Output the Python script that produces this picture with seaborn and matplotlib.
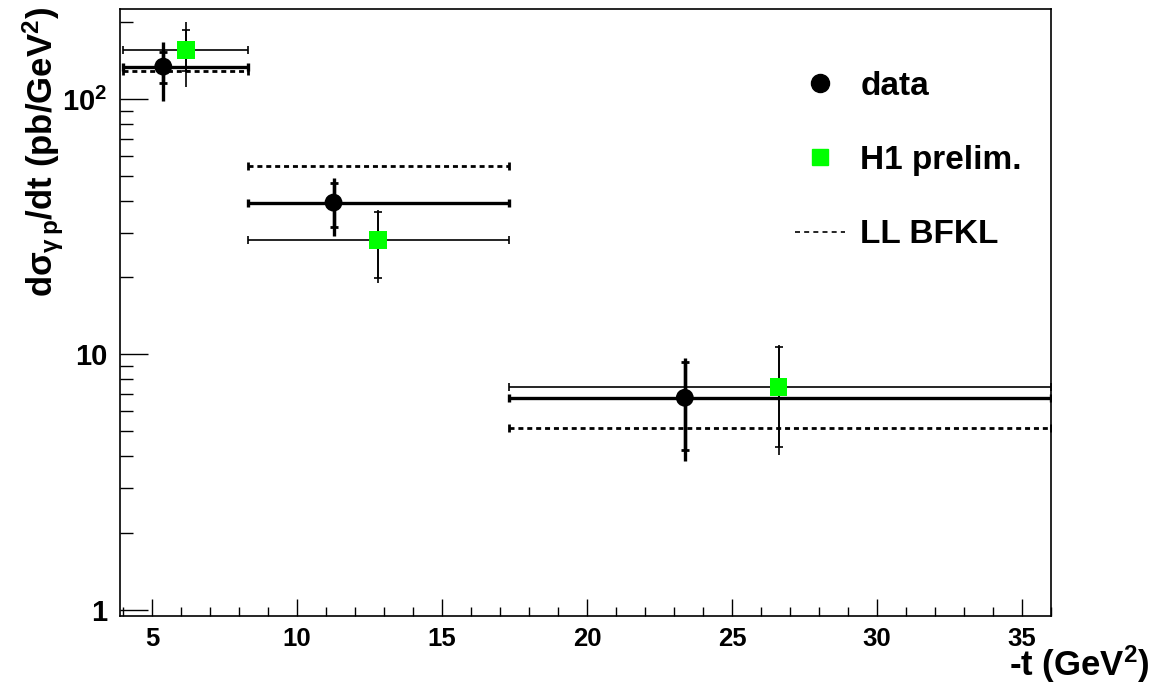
import numpy as np
import pandas as pd
import seaborn as sns
import matplotlib
matplotlib.use("Agg")
import matplotlib.pyplot as plt
from matplotlib.lines import Line2D
from matplotlib.ticker import FixedLocator, FixedFormatter, MultipleLocator, NullFormatter

# ---------------- data ----------------
bin_lo = [4.0, 8.3, 17.3]
bin_hi = [8.3, 17.3, 36.0]

data_x = [5.39, 11.26, 23.37]
data_y = [134.0, 39.3, 6.76]
data_stat_lo = [116.0, 31.5, 4.22]
data_stat_hi = [153.0, 46.9, 9.35]
data_tot_lo = [98.0, 29.1, 3.83]
data_tot_hi = [168.0, 49.0, 9.64]

h1_x = [6.18, 12.8, 26.6]
h1_y = [156.0, 28.1, 7.46]
h1_stat_lo = [129.0, 19.9, 4.32]
h1_stat_hi = [187.0, 36.2, 10.7]
h1_tot_lo = [111.0, 19.1, 4.03]
h1_tot_hi = [200.0, 36.8, 10.9]

bfkl_y = [129.0, 54.9, 5.15]

y_major = [1, 10, 100]
y_major_labels = ["1", "10", r"$\mathbf{10^{2}}$"]
x_major = [5, 10, 15, 20, 25, 30, 35]
legend_labels = ["data", "H1 prelim.", "LL BFKL"]

# ---------------- style ----------------
sns.set_theme(style="white")
plt.rcParams["font.family"] = ["Liberation Sans", "DejaVu Sans"]
plt.rcParams["font.weight"] = "bold"
plt.rcParams["text.color"] = "black"
plt.rcParams["axes.labelcolor"] = "black"
plt.rcParams["xtick.color"] = "black"
plt.rcParams["ytick.color"] = "black"
plt.rcParams["mathtext.fontset"] = "custom"
plt.rcParams["mathtext.rm"] = "Liberation Sans:bold"
plt.rcParams["mathtext.it"] = "Liberation Sans:bold"
plt.rcParams["mathtext.bf"] = "Liberation Sans:bold"
plt.rcParams["mathtext.sf"] = "Liberation Sans:bold"

df_data = pd.DataFrame({"x": data_x, "y": data_y})
df_h1 = pd.DataFrame({"x": h1_x, "y": h1_y})

fig = plt.figure(figsize=(11.61, 6.88), dpi=100)
ax = fig.add_axes([0.1034, 0.105, 0.802, 0.8824])
ax.set_yscale("log")
ax.set_xlim(3.9, 36.0)
ax.set_ylim(0.946, 226)

def asym(center, lo, hi):
    c = np.asarray(center)
    return np.vstack([c - np.asarray(lo), np.asarray(hi) - c])

# LL BFKL dashed bins
eb = ax.errorbar(h1_x, bfkl_y, xerr=asym(h1_x, bin_lo, bin_hi), fmt="none",
                 ecolor="black", elinewidth=2.0, capsize=3, capthick=2.0, zorder=2)
for lc in eb[2]:
    lc.set_linestyle((0, (1.8, 1.4)))

# H1: thin bars
ax.errorbar(h1_x, h1_y, xerr=asym(h1_x, bin_lo, bin_hi), fmt="none",
            ecolor="black", elinewidth=1.2, capsize=3, capthick=1.2, zorder=3)
ax.errorbar(h1_x, h1_y, yerr=asym(h1_y, h1_tot_lo, h1_tot_hi), fmt="none",
            ecolor="black", elinewidth=1.2, capsize=0, zorder=3)
ax.errorbar(h1_x, h1_y, yerr=asym(h1_y, h1_stat_lo, h1_stat_hi), fmt="none",
            ecolor="black", elinewidth=1.2, capsize=3, capthick=1.2, zorder=3)

# data: thick bars
ax.errorbar(data_x, data_y, xerr=asym(data_x, bin_lo, bin_hi), fmt="none",
            ecolor="black", elinewidth=2.4, capsize=3, capthick=2.4, zorder=4)
ax.errorbar(data_x, data_y, yerr=asym(data_y, data_tot_lo, data_tot_hi), fmt="none",
            ecolor="black", elinewidth=2.4, capsize=0, zorder=4)
ax.errorbar(data_x, data_y, yerr=asym(data_y, data_stat_lo, data_stat_hi), fmt="none",
            ecolor="black", elinewidth=2.4, capsize=3, capthick=2.0, zorder=4)

sns.scatterplot(data=df_h1, x="x", y="y", ax=ax, marker="s", s=160,
                color="#00ff00", edgecolor="none", zorder=5, legend=False)
sns.scatterplot(data=df_data, x="x", y="y", ax=ax, marker="o", s=165,
                color="black", edgecolor="none", zorder=6, legend=False)

# ---------------- axes ----------------
for sp in ax.spines.values():
    sp.set_visible(True)
    sp.set_color("black")
    sp.set_linewidth(1.2)

ax.yaxis.set_major_locator(FixedLocator(y_major))
ax.yaxis.set_major_formatter(FixedFormatter(y_major_labels))
minors = [m * d for d in [1, 10, 100] for m in range(2, 10)]
ax.yaxis.set_minor_locator(FixedLocator(minors))
ax.yaxis.set_minor_formatter(NullFormatter())
ax.xaxis.set_major_locator(FixedLocator(x_major))
ax.xaxis.set_minor_locator(MultipleLocator(1))

ax.tick_params(axis="both", which="both", direction="in", colors="black",
               top=False, right=False, bottom=True, left=True)
ax.tick_params(axis="x", which="major", length=12, width=1.0, pad=8, labelsize=18.5)
ax.tick_params(axis="x", which="minor", length=6.5, width=1.0)
ax.tick_params(axis="y", which="major", length=20, width=1.0, pad=9, labelsize=21)
ax.tick_params(axis="y", which="minor", length=9.5, width=1.0)
for lab in ax.get_xticklabels() + ax.get_yticklabels():
    lab.set_fontweight("bold")

ax.set_xlabel(r"-t (GeV$^{2}$)", fontsize=25, fontweight="bold", ha="right", va="top")
ax.xaxis.set_label_coords(1.106, -0.046)
ax.set_ylabel(r"d$\sigma_{\gamma\, p}$/dt (pb/GeV$^{2}$)", fontsize=25, fontweight="bold")
ax.yaxis.set_label_coords(-0.058, 0.764)

# ---------------- legend ----------------
handles = [
    Line2D([], [], marker="o", linestyle="none", color="black", markersize=13),
    Line2D([], [], marker="s", linestyle="none", color="#00ff00", markersize=12),
    Line2D([], [], linestyle=(0, (3, 2.5)), color="black", linewidth=1.2),
]
leg = ax.legend(handles, legend_labels, loc="upper left", bbox_to_anchor=(0.711, 0.920),
                frameon=False, fontsize=24, handlelength=1.5, handletextpad=0.45,
                labelspacing=1.3, borderaxespad=0)
for t in leg.get_texts():
    t.set_fontweight("bold")
    t.set_color("black")

fig.savefig("out.png", dpi=100)
